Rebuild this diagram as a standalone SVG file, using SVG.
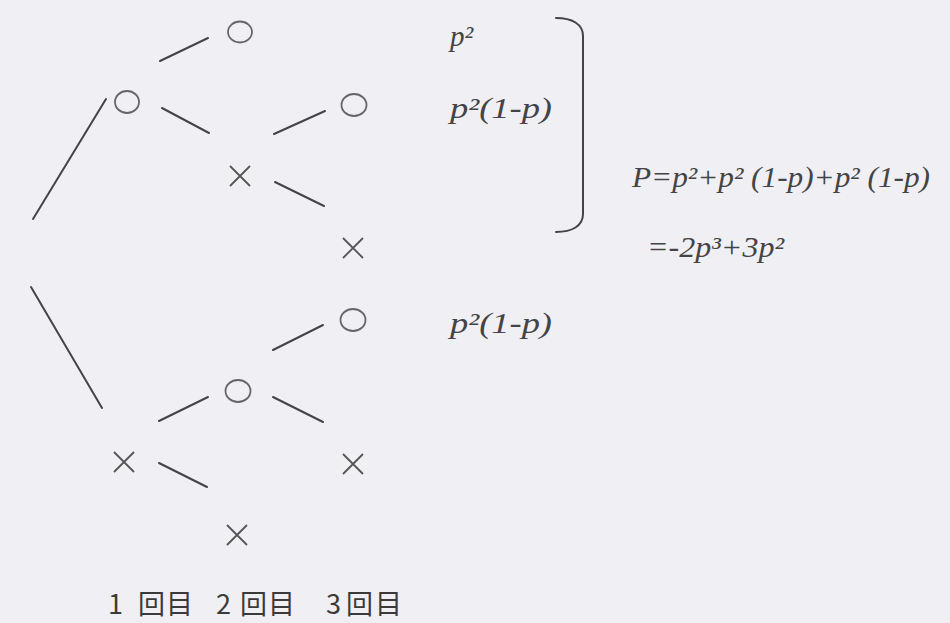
<svg xmlns="http://www.w3.org/2000/svg" width="950" height="623" viewBox="0 0 950 623">
<style>
.ln{stroke:#444;stroke-width:2;stroke-linecap:round;fill:none}
.o{stroke:#666;stroke-width:1.8;fill:none}
.x{stroke:#555;stroke-width:1.8;fill:none}
.m{font-family:"Liberation Serif","DejaVu Serif",serif;font-style:italic;font-size:29px;fill:#444}
.j{font-family:"Noto Sans CJK JP","Noto Sans",sans-serif;font-size:27px;fill:#3a3a3a}
</style>
<rect width="950" height="623" fill="#f0eff3"/>
<g id="connectors">
<line class="ln" x1="33" y1="219" x2="106" y2="99"/>
<line class="ln" x1="31" y1="287" x2="102" y2="408"/>
<line class="ln" x1="160" y1="61" x2="208" y2="38"/>
<line class="ln" x1="162" y1="108" x2="209" y2="133"/>
<line class="ln" x1="274" y1="134" x2="325" y2="111"/>
<line class="ln" x1="275" y1="182" x2="324" y2="206"/>
<line class="ln" x1="273" y1="350" x2="323" y2="325"/>
<line class="ln" x1="159" y1="421" x2="208" y2="397"/>
<line class="ln" x1="273" y1="397" x2="323" y2="422"/>
<line class="ln" x1="159" y1="463" x2="207" y2="487"/>
</g>
<g id="n1o"><ellipse class="o" cx="127" cy="102" rx="12" ry="11"/></g>
<g id="n1x"><path class="x" d="M114,452 L134,472 M134,452 L114,472"/></g>
<g id="n2oo"><ellipse class="o" cx="240" cy="32" rx="12" ry="10.5"/></g>
<g id="n2ox"><path class="x" d="M230,166 L250,186 M250,166 L230,186"/></g>
<g id="n2xo"><ellipse class="o" cx="238" cy="391" rx="12.5" ry="11"/></g>
<g id="n2xx"><path class="x" d="M227,525 L247,545 M247,525 L227,545"/></g>
<g id="n3oxo"><ellipse class="o" cx="354" cy="105" rx="12.5" ry="11"/></g>
<g id="n3oxx"><path class="x" d="M343,238 L363,258 M363,238 L343,258"/></g>
<g id="n3xoo"><ellipse class="o" cx="353" cy="320" rx="12.5" ry="11"/></g>
<g id="n3xox"><path class="x" d="M343,454 L363,474 M363,454 L343,474"/></g>
<g id="labels">
<text class="m" x="450" y="46">p²</text>
<text class="m" x="450" y="118" textLength="102" lengthAdjust="spacingAndGlyphs">p²(1-p)</text>
<text class="m" x="450" y="333" textLength="102" lengthAdjust="spacingAndGlyphs">p²(1-p)</text>
<path class="ln" d="M556,18 C572,18 583,24 583,36 V214 C583,226 572,232 556,232"/>
<text class="m" x="632" y="187" textLength="298" lengthAdjust="spacingAndGlyphs">P=p²+p² (1-p)+p² (1-p)</text>
<text class="m" x="647" y="257" textLength="137" lengthAdjust="spacingAndGlyphs">=-2p³+3p²</text>
</g>
<g id="axis">
<text class="j" x="108 138 166" y="614">1回目</text>
<text class="j" x="216 240 268" y="614">2回目</text>
<text class="j" x="326 346 375" y="614">3回目</text>
</g>
</svg>
